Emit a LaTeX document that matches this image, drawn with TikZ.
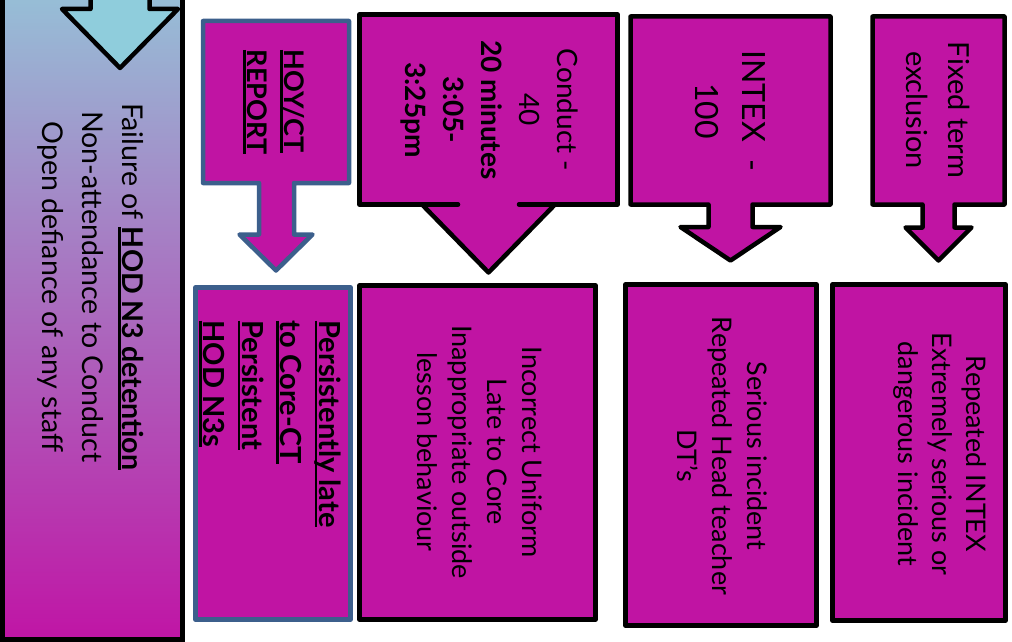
\documentclass[tikz,border=0pt]{standalone}
\usepackage{fontspec}
\setmainfont{Lato}
\newcommand{\myul}[1]{{\setbox0=\hbox{#1}\rlap{\rule[-4.4pt]{\wd0}{2.5pt}}\box0}}
\definecolor{mag}{RGB}{192,20,163}
\definecolor{bluegrey}{RGB}{60,95,140}
\definecolor{lblue}{RGB}{143,205,220}
\definecolor{gtop}{RGB}{150,192,215}
\definecolor{gbot}{RGB}{192,20,165}
\begin{document}
\begin{tikzpicture}[x=1pt,y=-1pt,
  box/.style={draw=black, line width=4.5pt, fill=mag, line join=round},
  bbox/.style={draw=bluegrey, line width=4.5pt, fill=mag, line join=round},
  rot/.style={rotate=-90, inner sep=0pt, text=black},
]
\useasboundingbox (0,0) rectangle (1012,642);
\clip (0,0) rectangle (1012,642);
\fill[white] (0,0) rectangle (1012,642);

% left panel
\shade[top color=gtop, bottom color=gbot] (0,-10) rectangle (183,642);
\draw[line width=5pt] (2.5,-10) -- (2.5,639.5) -- (182.5,639.5) -- (182.5,-10);
\draw[fill=lblue, line width=4.5pt, line join=round]
  (90.5,-10) -- (90.5,9) -- (62,9) -- (120,68) -- (178,9) -- (149.5,9) -- (149.5,-10);
\node[rot, align=center, font=\fontsize{28.6}{40}\selectfont] (tfail) at (91,287)
  {Failure of \textbf{\myul{HOD N3 detention}}\\Non-attendance to Conduct\\Open defiance of any staff};

% HOY/CT report
\draw[bbox] (203,21) -- (349,21) -- (349,183) -- (294,183) -- (294,234.5) -- (312.5,234.5)
  -- (276,270.5) -- (239.5,234.5) -- (259,234.5) -- (259,183) -- (203,183) -- cycle;
\node[rot, align=left, font=\bfseries\fontsize{27}{37}\selectfont] (thoy) at (274,102)
  {\myul{HOY/CT}\\\myul{REPORT}};

\draw[bbox] (195.5,287.5) rectangle (350.5,619.5);
\node[rot, align=left, font=\bfseries\fontsize{29}{38.5}\selectfont] (tpers) at (270,424)
  {\myul{Persistently late}\\\myul{to Core-CT}\\\myul{Persistent}\\\myul{HOD N3s}};

% Conduct
\fill[mag] (359.5,14.5) rectangle (617.5,204.5);
\fill[mag] (422,204.5) -- (488.5,272.5) -- (555,204.5) -- cycle;
\draw[line width=4.5pt, line cap=round, line join=round]
  (458,204.5) -- (359.5,204.5) -- (359.5,14.5) -- (617.5,14.5) -- (617.5,204.5) -- (519,204.5);
\draw[line width=4.5pt, line cap=round, line join=round]
  (422,204.5) -- (488.5,272.5) -- (555,204.5);
\node[rot, align=center, font=\fontsize{28}{38}\selectfont] (tcond) at (489,110)
  {Conduct -\\40\\\textbf{20 minutes}\\\textbf{3:05-}\\\textbf{3:25pm}};

% INTEX
\draw[box] (630.5,16.5) -- (830.5,16.5) -- (830.5,204.5) -- (752.5,204.5) -- (752.5,227)
  -- (780.5,227) -- (730.5,260.5) -- (680.5,227) -- (708.5,227) -- (708.5,204.5) -- (630.5,204.5) -- cycle;
\node[rot, align=center, font=\fontsize{32}{47}\selectfont] (tintex) at (730.5,111)
  {INTEX\hspace{0.55em}-\\100};

% Fixed term
\draw[box] (872.5,16.5) -- (1004.5,16.5) -- (1004.5,204.5) -- (954.5,204.5) -- (954.5,227.5)
  -- (971.5,227.5) -- (938.5,260.5) -- (905.5,227.5) -- (922.5,227.5) -- (922.5,204.5) -- (872.5,204.5) -- cycle;
\node[rot, align=center, font=\fontsize{29}{42}\selectfont] (tfixed) at (938,110)
  {Fixed term\\exclusion};

% bottom boxes
\draw[box] (359.5,285.5) rectangle (595.5,619.5);
\node[rot, align=center, font=\fontsize{27}{35}\selectfont] (tinc) at (480,452)
  {Incorrect Uniform\\Late to Core\\Inappropriate outside\\lesson behaviour};

\draw[box] (625.5,284.5) rectangle (816.5,625.5);
\node[rot, align=center, font=\fontsize{27}{35}\selectfont] (tser) at (722,456)
  {Serious incident\\Repeated Head teacher\\DT’s};

\draw[box] (832.5,284.5) rectangle (1005.5,620.5);
\node[rot, align=center, font=\fontsize{27}{34}\selectfont] (trep) at (940,454)
  {Repeated INTEX\\Extremely serious or\\dangerous incident};
\end{tikzpicture}
\end{document}
